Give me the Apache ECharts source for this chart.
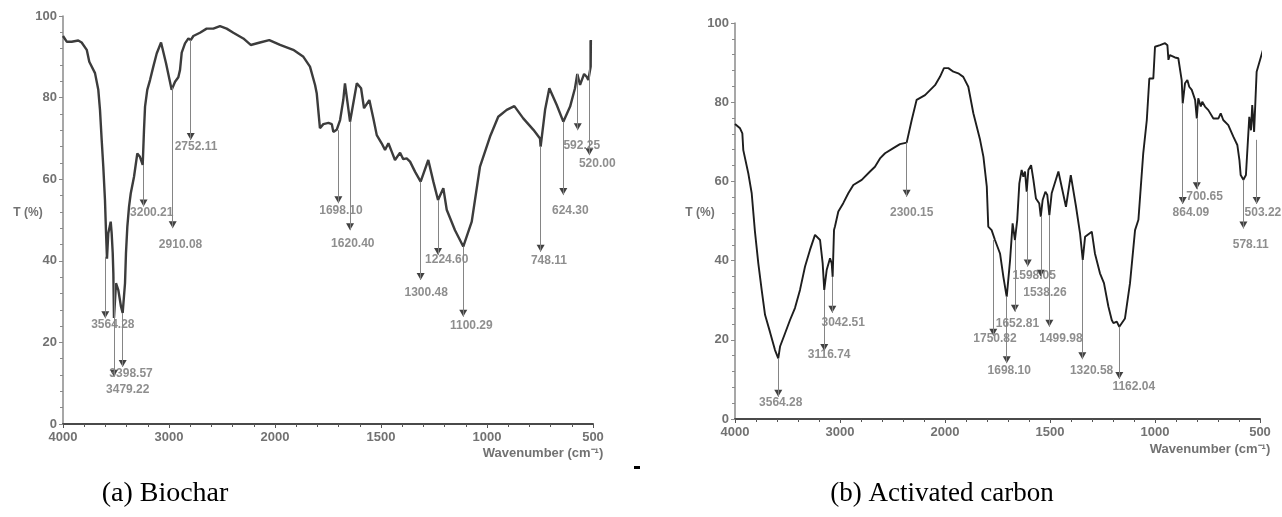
<!DOCTYPE html>
<html><head><meta charset="utf-8">
<script src="https://cdn.jsdelivr.net/npm/echarts/dist/echarts.min.js"></script>
<style>html,body{margin:0;padding:0;background:#fff}#c{width:1282px;height:517px}</style>
</head><body><div id="c"></div>
<script>
// ---- (a) Biochar spectrum ----
const biocharWave = [4000,3965,3918,3856,3824,3776,3752,3698,3667,3651,
 3635,3620,3604,3594,3585,3573,3550,3541,3531,3525,
 3519,3500,3478,3453,3437,3415,3406,3393,3377,3361,
 3330,3299,3274,3248,3236,3226,3205,3179,3148,3116,
 3075,3028,2975,2943,2912,2896,2880,2849,2817,2795,
 2770,2708,2645,2582,2519,2456,2393,2299,2229,2142,
 2054,1976,1914,1866,1835,1811,1803,1788,1772,1748,
 1732,1725,1709,1693,1678,1670,1646,1614,1594,1580,
 1555,1536,1520,1497,1481,1465,1449,1434,1410,1395,
 1379,1363,1339,1313,1277,1253,1231,1206,1190,1151,
 1112,1072,1033,986,947,907,871,829,781,750,
 747,726,706,671,640,608,585,574,561,542,
 530,522,511,510];
const biocharT = [95.1,93.7,93.7,94.0,93.5,91.7,88.8,86.0,81.9,77.0,
 69.6,63.1,54.9,46.8,40.5,46.7,49.6,46.8,41.9,37.0,
 26.0,34.5,32.8,28.8,27.2,34.5,41.8,48.4,53.3,56.5,
 60.6,66.3,65.5,63.5,72.0,77.8,81.9,84.3,87.6,90.8,
 93.5,88.4,81.9,83.9,85.0,86.8,91.0,93.3,94.5,94.1,
 95.1,95.9,96.9,96.9,97.5,96.9,95.9,94.5,92.9,93.5,
 94.1,92.9,91.7,90.0,87.6,83.1,81.0,72.5,73.5,73.8,
 73.5,71.6,72.1,74.5,79.4,83.5,74.1,83.5,82.3,77.4,
 79.4,74.9,70.8,68.8,67.2,68.8,66.7,64.7,66.5,64.9,
 65.1,64.3,61.8,59.4,64.7,59.4,54.9,57.8,52.5,47.5,
 43.5,49.6,63.1,70.4,75.3,77.0,77.9,74.9,72.1,70.0,
 68.0,77.0,82.3,78.2,74.1,77.8,82.3,85.8,83.1,85.8,
 85.1,84.3,87.6,94.1];
// peak annotations (a)
const biocharPeakText = ["2752.11","2910.08","3200.21","3564.28","3479.22","3398.57","1698.10","1620.40","1300.48","1224.60","1100.29","748.11","624.30","592.25","520.00"];
const biocharPeakWave = [2795,2965,3240,3601,3519,3437,1701,1646,1313,1231,1112,747,640,572,517];
const biocharPeakFrom = [94.1,82.5,63.5,41,36,27.2,72,74.1,59.4,54.9,43.5,68,74.1,85.8,94];
const biocharPeakTip  = [69.6,48,53.3,25.9,11.6,14,54.1,47.5,35.3,41.4,26.3,42.2,56.1,72,65.9];
const biocharLabelWave = [2745,2891,3163,3530,3389,3358,1689,1633,1287,1190,1074,708,607,553,480];
const biocharLabelT    = [67.9,43.9,51.8,24.3,8.3,12.3,52.2,44.3,32.2,40.2,24.0,40,52.2,68.1,63.9];

// ---- (b) Activated carbon spectrum ----
const carbonWave = [4000,3952,3930,3921,3873,3841,3810,3778,3746,3714,
 3667,3619,3588,3571,3524,3476,3429,3381,3333,3286,
 3238,3222,3190,3165,3150,3127,3095,3079,3070,3057,
 3048,3016,2969,2921,2873,2793,2714,2667,2619,2571,
 2492,2429,2365,2317,2270,2190,2095,2048,2010,1984,
 1960,1937,1913,1889,1865,1833,1817,1801,1794,1778,
 1762,1754,1738,1722,1709,1706,1690,1678,1667,1656,
 1646,1635,1627,1619,1611,1603,1590,1579,1567,1551,
 1544,1535,1522,1513,1503,1492,1460,1424,1401,1376,
 1357,1344,1333,1301,1286,1262,1243,1222,1206,1198,
 1182,1170,1143,1119,1095,1079,1056,1039,1027,1008,
 1000,976,952,941,936,929,905,889,873,868,
 857,846,837,825,809,801,794,782,775,762,
 746,722,698,687,675,651,627,608,598,592,
 579,567,558,551,543,537,528,519,516,484];
const carbonT = [74.5,73.4,72.1,67.9,62.0,57.0,47.3,39.3,32.6,26.3,
 22.0,17.4,15.3,18.3,21.6,25.0,28.0,32.6,38.5,42.7,
 46.5,47.0,45.2,39.3,32.6,37.6,40.6,39.3,35.9,47.7,
 48.6,52.4,54.5,57.0,59.1,60.4,62.5,63.7,65.8,67.1,
 68.4,69.4,69.8,75.5,80.6,81.8,84.3,86.4,88.6,88.6,
 87.7,87.3,86.4,83.9,77.2,70.5,66.2,58.7,48.6,47.7,
 45.2,45.6,41.8,35.9,31.7,30.9,40.2,49.4,45.2,50.3,
 59.5,62.9,61.2,62.5,57.4,62.9,64.1,60.4,55.7,54.4,
 51.1,55.3,57.4,56.6,51.5,57.0,62.5,53.6,61.6,53.6,
 46.9,40.2,46.0,47.3,41.8,36.8,34.3,28.4,25.0,24.2,
 24.6,23.3,25.4,34.3,47.7,50.3,67.1,75.5,86.0,86.0,
 94.0,94.4,94.9,94.4,90.7,91.9,91.3,91.1,85.6,79.7,
 84.8,85.6,83.9,83.1,80.6,75.9,81.0,78.9,80.1,78.9,
 78.0,75.9,75.9,77.2,75.5,74.2,71.3,69.2,65.4,61.6,
 60.4,61.6,62.0,76.3,72.9,79.3,72.5,72.1,87.7,93.6];
// peak annotations (b)
const carbonPeakText = ["2300.15","3564.28","3116.74","3042.51","1750.82","1698.10","1652.81","1598.05","1538.26","1499.98","1320.58","1162.04","864.09","700.65","578.11","503.22"];
const carbonPeakWave = [2365,3588,3150,3073,1770,1706,1667,1606,1544,1503,1346,1170,868,801,579,516];
const carbonPeakFrom = [69.8,15.3,32.6,35.9,45.2,30.9,45.2,57.4,51.1,51.5,40.2,23.3,79.7,75.9,60.4,70.5];
const carbonPeakTip  = [56.1,5.6,17.2,26.8,21,14.1,27.1,38.5,35.9,23.3,15.1,10.1,54.3,58,48.1,54.3];
const carbonLabelWave = [2317,3564,3103,2970,1762,1694,1655,1575,1524,1448,1302,1101,829,764,544,486];
const carbonLabelT    = [52.1,4.1,16.2,24.2,20.2,12.2,24,36.2,32,20.2,12.1,8.2,52.1,56.1,44.1,52.1];

const yTicks = [0,20,40,60,80,100];
const xTickLabels = [4000,3000,2000,1500,1000,500];

// IR-style axis: region above 2000 cm-1 compressed by 2
function toAxis(w){ return w > 2000 ? 2000 + (w - 2000) / 2 : w; }
function fromAxis(u){ return u > 2000 ? 2000 + (u - 2000) * 2 : u; }

const labelFont = {fontFamily:'"Liberation Sans", Arial, sans-serif', fontWeight:'bold', fontSize:12, color:'#727272'};
const tickFont = {fontFamily:'"Liberation Sans", Arial, sans-serif', fontWeight:'bold', fontSize:13, color:'#727272'};

function xAxisDef(gi){
  return {
    type:'value', gridIndex:gi, min:500, max:3000, interval:500, inverse:true,
    axisLine:{show:true, onZero:false, lineStyle:{color:'#4a4a4a', width:2}},
    axisTick:{show:true, length:4, lineStyle:{color:'#555', width:1}},
    minorTick:{show:true, splitNumber:5, length:3, lineStyle:{color:'#555', width:1}},
    splitLine:{show:false},
    axisLabel:Object.assign({margin:7, formatter:v => String(fromAxis(v))}, tickFont)
  };
}
function yAxisDef(gi){
  return {
    type:'value', gridIndex:gi, min:0, max:100, interval:20,
    axisLine:{show:true, onZero:false, lineStyle:{color:'#8a8a8a', width:1.5}},
    axisTick:{show:true, length:4, lineStyle:{color:'#8a8a8a', width:1}},
    minorTick:{show:true, splitNumber:5, length:3, lineStyle:{color:'#8a8a8a', width:1}},
    splitLine:{show:false},
    axisLabel:Object.assign({margin:6}, tickFont)
  };
}

function spectrumSeries(gi, waves, ts, color, width, pw, pf, pt){
  return {
    type:'line', xAxisIndex:gi, yAxisIndex:gi, showSymbol:false, clip:false,
    data: waves.map((w,i)=>[toAxis(w), ts[i]]),
    lineStyle:{color:color, width:width}, animation:false, silent:true,
    markLine:{
      silent:true, animation:false, symbol:['none','none'],
      label:{show:false},
      lineStyle:{color:'#858585', width:1, type:'solid'},
      data: pw.map((w,i)=>[{coord:[toAxis(w), pf[i]]},{coord:[toAxis(w), pt[i]]}])
    }
  };
}
function arrowSeries(gi, pw, pt){
  return {
    type:'scatter', xAxisIndex:gi, yAxisIndex:gi, clip:false, silent:true, animation:false,
    symbol:'path://M0,0L10,0L5,9Z', symbolSize:[8,7], symbolOffset:[0,-3.5],
    itemStyle:{color:'#111'},
    data: pw.map((w,i)=>[toAxis(w), pt[i]])
  };
}
function labelSeries(gi, texts, lw, lt){
  return {
    type:'scatter', xAxisIndex:gi, yAxisIndex:gi, clip:false, silent:true, animation:false,
    symbolSize:1, itemStyle:{color:'rgba(0,0,0,0)'},
    label:Object.assign({show:true, position:'inside', formatter:'{b}'}, labelFont),
    data: texts.map((t,i)=>({name:t, value:[toAxis(lw[i]), lt[i]]}))
  };
}

const chart = echarts.init(document.getElementById('c'), null, {renderer:'canvas'});
const nameStyle = {font:'bold 12px "Liberation Sans", Arial, sans-serif', fill:'#727272'};
chart.setOption({
  backgroundColor:'#fff',
  animation:false,
  grid:[
    {left:63, top:16, width:530, height:408},
    {left:735, top:23, width:525, height:396}
  ],
  xAxis:[xAxisDef(0), xAxisDef(1)],
  yAxis:[yAxisDef(0), yAxisDef(1)],
  series:[
    spectrumSeries(0, biocharWave, biocharT, '#3c3c3c', 2.4, biocharPeakWave, biocharPeakFrom, biocharPeakTip),
    arrowSeries(0, biocharPeakWave, biocharPeakTip),
    labelSeries(0, biocharPeakText, biocharLabelWave, biocharLabelT),
    spectrumSeries(1, carbonWave, carbonT, '#1e1e1e', 1.9, carbonPeakWave, carbonPeakFrom, carbonPeakTip),
    arrowSeries(1, carbonPeakWave, carbonPeakTip),
    labelSeries(1, carbonPeakText, carbonLabelWave, carbonLabelT)
  ],
  graphic:[
    {type:'text', x:28, y:213, style:Object.assign({text:'T (%)', textAlign:'center', textVerticalAlign:'middle'}, nameStyle)},
    {type:'text', x:700, y:213, style:Object.assign({text:'T (%)', textAlign:'center', textVerticalAlign:'middle'}, nameStyle)},
    {type:'text', x:543, y:453, style:Object.assign({text:'Wavenumber (cm\u207B\u00B9)', textAlign:'center', textVerticalAlign:'middle'}, nameStyle, {font:'bold 13px "Liberation Sans", Arial, sans-serif'})},
    {type:'text', x:1210, y:449, style:Object.assign({text:'Wavenumber (cm\u207B\u00B9)', textAlign:'center', textVerticalAlign:'middle'}, nameStyle, {font:'bold 13px "Liberation Sans", Arial, sans-serif'})},
    {type:'text', x:165, y:494, style:{text:'(a) Biochar', textAlign:'center', textVerticalAlign:'middle', font:'28px "Liberation Serif", "Times New Roman", serif', fill:'#000'}},
    {type:'text', x:942, y:494, style:{text:'(b) Activated carbon', textAlign:'center', textVerticalAlign:'middle', font:'27px "Liberation Serif", "Times New Roman", serif', fill:'#000'}},
    {type:'rect', shape:{x:634, y:466, width:6, height:3}, style:{fill:'#000'}}
  ]
});
</script>
</body></html>
